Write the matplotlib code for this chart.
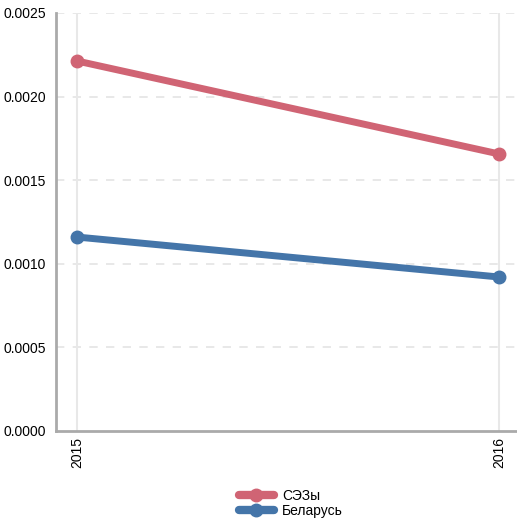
import matplotlib
matplotlib.use("Agg")
import matplotlib.pyplot as plt

years = [2015, 2016]
year_labels = ["2015", "2016"]
sez = [0.002213, 0.001657]
belarus = [0.00116, 0.000921]
series_names = ["СЭЗы", "Беларусь"]
y_ticks = [0.0, 0.0005, 0.0010, 0.0015, 0.0020, 0.0025]

plt.rcParams['font.family'] = ['Liberation Sans', 'DejaVu Sans']

W, H = 517, 519
fig = plt.figure(figsize=(W/100, H/100), dpi=100)
ax = fig.add_axes([56/W, (H-431)/H, (517-56)/W, (431-13)/H])

red = '#d06474'
blue = '#4475a9'
ax.plot(years, sez, color=red, lw=5, marker='o', ms=9, label=series_names[0], solid_capstyle='round', zorder=3)
ax.plot(years, belarus, color=blue, lw=5, marker='o', ms=9, label=series_names[1], solid_capstyle='round', zorder=3)

ax.set_xlim(2015 - 21/422, 2016 + 18/422)
ax.set_ylim(0, 0.0025)
ax.set_xticks(years)
ax.set_xticklabels(year_labels, rotation=90, fontsize=10)
ax.set_yticks(y_ticks)
ax.set_yticklabels([f"{v:.4f}" for v in y_ticks], fontsize=10)
ax.tick_params(axis='both', length=0, pad=4)
ax.tick_params(axis='y', pad=7)

for y in y_ticks[1:]:
    ax.axhline(y, color='#e4e4e4', lw=1.2, dashes=(5, 5), zorder=1)
for x in years:
    ax.axvline(x, color='#e8e8e8', lw=1.5, zorder=1)

for s in ['top', 'right']:
    ax.spines[s].set_visible(False)
for s in ['left', 'bottom']:
    ax.spines[s].set_color('#aaaaaa')
    ax.spines[s].set_linewidth(2)

leg = fig.legend(loc='center', bbox_to_anchor=(291/W, 1 - 503.5/H), frameon=False, fontsize=10,
                 handlelength=2.5, labelspacing=0.1, handletextpad=0.6, borderpad=0)
for h in leg.get_lines():
    h.set_linewidth(6)

fig.savefig("out.png", dpi=100)
